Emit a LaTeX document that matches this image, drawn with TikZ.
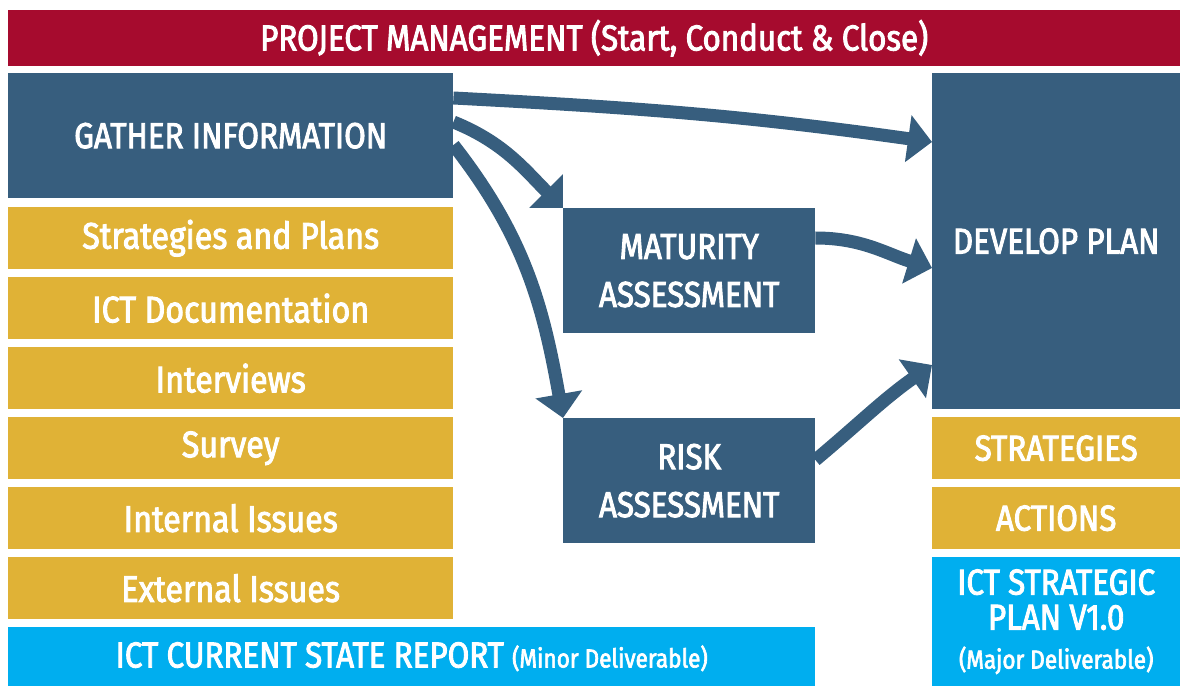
\documentclass[tikz,border=0pt]{standalone}
\usepackage{fontspec}
\newfontfamily\condfont[FakeStretch=0.87,FakeBold=2.5]{Fira Sans}
\usepackage{tikz}
\usetikzlibrary{arrows.meta,positioning}
\definecolor{pmred}{RGB}{166,11,46}
\definecolor{stepblue}{RGB}{55,94,126}
\definecolor{itemgold}{RGB}{224,178,54}
\definecolor{delivcyan}{RGB}{0,174,239}
\tikzstyle{box}=[draw=none,inner sep=0pt,text=white,align=center,anchor=north west,
  font=\condfont\fontsize{36}{48}\selectfont]
\tikzstyle{stepbox}=[box,fill=stepblue,minimum width=252pt,minimum height=125pt]
\tikzstyle{itembox}=[box,fill=itemgold,minimum width=445pt,minimum height=62pt,
  font=\condfont\fontsize{37}{40}\selectfont]
\tikzstyle{rightitem}=[itembox,minimum width=248pt,font=\condfont\fontsize{36}{40}\selectfont]
\tikzstyle{flow}=[stepblue,line width=13pt,-{Triangle[length=24pt,width=46pt]}]

\begin{document}
\begin{tikzpicture}[x=1pt,y=1pt]
\useasboundingbox (0,0) rectangle (1182,686);

% project management bar
\node [box, fill=pmred, minimum width=1172pt, minimum height=56pt] (pm) at (8,676)
  {PROJECT MANAGEMENT (Start, Conduct \& Close)};

% left column
\node [stepbox, minimum width=445pt] (gather) at (8,613) {GATHER INFORMATION};
\foreach \txt [count=\i from 0] in {Strategies and Plans, ICT Documentation,
    Interviews, Survey, Internal Issues, External Issues}
  \node [itembox] (item\i) at (8,479-70*\i) {\txt};
\node [box, fill=delivcyan, minimum width=807pt, minimum height=59pt] (report) at (8,59)
  {ICT CURRENT STATE REPORT {\fontsize{26}{28}\selectfont (Minor Deliverable)}};

% assessments
\node [stepbox] (maturity) at (563,478) {MATURITY\\ASSESSMENT};
\node [stepbox] (risk) at (563,268) {RISK\\ASSESSMENT};

% right column
\node [stepbox, minimum width=248pt, minimum height=336pt] (develop) at (932,613) {DEVELOP PLAN};
\node [rightitem] (strategies) at (932,269) {STRATEGIES};
\node [rightitem] (actions) at (932,199) {ACTIONS};
\node [box, fill=delivcyan, minimum width=248pt, minimum height=129pt,
  font=\condfont\fontsize{36}{35}\selectfont] (plan) at (932,129)
  {ICT STRATEGIC\\PLAN V1.0\\[4pt]{\fontsize{26}{28}\selectfont (Major Deliverable)}};

% arrows
\draw [flow] ([yshift=-25pt]gather.north east) to[out=-3, in=172] ([yshift=-69pt]develop.north west);
\draw [flow] ([yshift=-49pt]gather.north east) to[out=-22, in=135] (maturity.north west);
\draw [flow] ([yshift=-72pt]gather.north east) to[out=-52, in=100] (risk.north west);
\draw [flow] ([yshift=-30pt]maturity.north east) to[out=0, in=163] ([yshift=-195pt]develop.north west);
\draw [flow] ([yshift=-42pt]risk.north east) to[out=40, in=215] ([yshift=-292pt]develop.north west);

\end{tikzpicture}
\end{document}
